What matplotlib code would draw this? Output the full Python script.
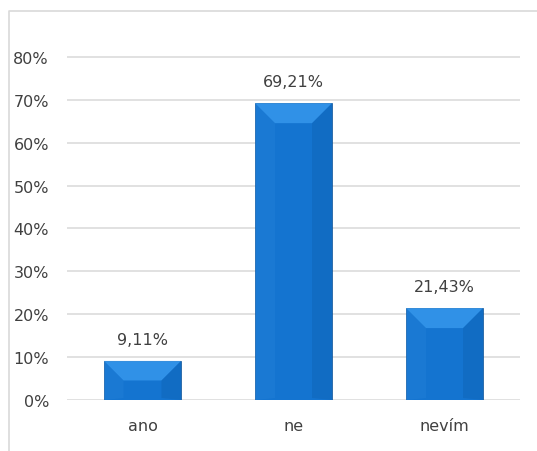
import matplotlib

matplotlib.use("Agg")
import matplotlib.pyplot as plt
from matplotlib.lines import Line2D
from matplotlib.patches import Polygon
from matplotlib.ticker import FuncFormatter

categories = ["ano", "ne", "nevím"]
values = [9.11, 69.21, 21.43]
labels = ["9,11%", "69,21%", "21,43%"]
y_ticks = [0, 10, 20, 30, 40, 50, 60, 70, 80]

TEXT = "#404040"
GRID = "#d9d9d9"
BLUE = "#1474d0"
BLUE_LIGHT = "#3a9bef"
BLUE_DARK = "#0b5aa8"

plt.rcParams["font.family"] = ["DejaVu Sans"]

fig = plt.figure(figsize=(5.37, 4.52), dpi=100)
ax = fig.add_axes([67 / 537, 51 / 452, 453 / 537, 386 / 452])

bars = ax.bar(range(len(categories)), values, width=0.51, color=BLUE,
              edgecolor="#0b4f93", linewidth=0.5, zorder=3)

ax.set_xlim(-0.5, len(categories) - 0.5)
ax.set_ylim(0, 90)
ax.set_yticks(y_ticks)
ax.yaxis.set_major_formatter(FuncFormatter(lambda v, p: "%d%%" % v))
ax.set_xticks(range(len(categories)))
ax.set_xticklabels(categories)
ax.tick_params(axis="both", length=0, labelsize=11.5, colors=TEXT)
ax.tick_params(axis="y", pad=13)
ax.tick_params(axis="x", pad=13)
ax.grid(axis="y", color=GRID, linewidth=1.1, zorder=0)
for s in ax.spines.values():
    s.set_visible(False)

# bevel look: light top, darker sides, computed from the bar patches
fig.canvas.draw()
inv = ax.transData.inverted()
bev = 20
for b in bars:
    (x0, y0), (x1, y1) = ax.transData.transform([(b.get_x(), 0), (b.get_x() + b.get_width(), b.get_height())])
    d = min(bev, (y1 - y0) / 2)
    top = [(x0, y1), (x1, y1), (x1 - d, y1 - d), (x0 + d, y1 - d)]
    right = [(x1, y1), (x1, y0), (x1 - d, y0 + 2), (x1 - d, y1 - d)]
    left = [(x0, y1), (x0 + d, y1 - d), (x0 + d, y0 + 2), (x0, y0)]
    for pts, col, a in [(top, BLUE_LIGHT, 0.75), (right, BLUE_DARK, 0.3), (left, "#2a86dc", 0.3)]:
        ax.add_patch(Polygon(inv.transform(pts), closed=True, facecolor=col,
                             edgecolor="none", alpha=a, zorder=4))

for b, lab in zip(bars, labels):
    ax.annotate(lab, (b.get_x() + b.get_width() / 2, b.get_height()),
                xytext=(0, 10), textcoords="offset points", ha="center", va="bottom",
                fontsize=11.5, color=TEXT)

# chart area border
fig.add_artist(Line2D([9 / 537, 9 / 537, 1], [0, 1 - 12 / 452, 1 - 12 / 452],
                      transform=fig.transFigure, color=GRID, linewidth=1.2))

fig.savefig("out.png", dpi=100)
